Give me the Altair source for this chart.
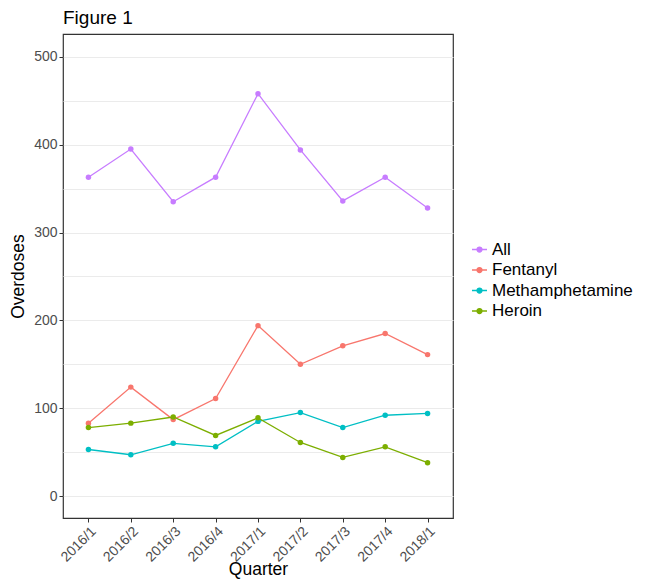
import altair as alt
import pandas as pd

quarters = ["2016/1", "2016/2", "2016/3", "2016/4", "2017/1", "2017/2", "2017/3", "2017/4", "2018/1"]
series_names = ["All", "Fentanyl", "Methamphetamine", "Heroin"]
all_vals = [363, 395, 335, 363, 458, 394, 336, 363, 328]
fentanyl_vals = [83, 124, 87, 111, 194, 150, 171, 185, 161]
meth_vals = [53, 47, 60, 56, 85, 95, 78, 92, 94]
heroin_vals = [78, 83, 90, 69, 89, 61, 44, 56, 38]
colors = ["#C77CFF", "#F8766D", "#00BFC4", "#7CAE00"]

rows = []
for name, vals in zip(series_names, [all_vals, fentanyl_vals, meth_vals, heroin_vals]):
    for q, v in zip(quarters, vals):
        rows.append({"Quarter": q, "Overdoses": v, "Drug": name})
df = pd.DataFrame(rows)

FONT = "Liberation Sans"

x = alt.X("Quarter:O", sort=quarters,
          scale=alt.Scale(type="point", padding=0.6),
          axis=alt.Axis(title="Quarter", labelAngle=-45, labelAlign="right", labelBaseline="top",
                        labelFontSize=14, labelColor="#4D4D4D", labelFont=FONT, labelPadding=2,
                        titleFontSize=17.5, titleColor="black", titleFont=FONT, titleFontWeight="normal",
                        titleY=56, titleBaseline="alphabetic",
                        tickColor="#333333", tickSize=4, domain=False, grid=False))
y = alt.Y("Overdoses:Q",
          scale=alt.Scale(domain=[-25, 526], nice=False, zero=False),
          axis=alt.Axis(title="Overdoses", values=list(range(0, 501, 50)),
                        labelExpr="datum.value % 100 === 0 ? datum.label : ''",
                        tickOpacity={"condition": {"test": "datum.value % 100 === 0", "value": 1}, "value": 0},
                        labelFontSize=14, labelColor="#4D4D4D", labelFont=FONT, labelPadding=2,
                        titleFontSize=17.5, titleColor="black", titleFont=FONT, titleFontWeight="normal",
                        titlePadding=6, tickColor="#333333", tickSize=4, domain=False,
                        grid=True, gridColor="#EBEBEB", gridWidth=1))
color = alt.Color("Drug:N", sort=series_names,
                  scale=alt.Scale(domain=series_names, range=colors),
                  legend=alt.Legend(title=None, orient="none", legendX=408, legendY=207,
                                    labelFontSize=17, labelFont=FONT, labelColor="black",
                                    symbolType="M-1,0H1M-0.33,0A0.33,0.33 0 1,1 0.33,0A0.33,0.33 0 1,1 -0.33,0Z",
                                    symbolSize=225, symbolStrokeWidth=1.3, rowPadding=2.5,
                                    labelOffset=4))

lines = alt.Chart(df).mark_line(strokeWidth=1.3).encode(x=x, y=y, color=color)
points = alt.Chart(df).mark_circle(size=30, opacity=1).encode(
    x=x, y=y,
    color=alt.Color("Drug:N", sort=series_names, scale=alt.Scale(domain=series_names, range=colors), legend=None))

chart = (lines + points).properties(
    width=390, height=484,
    background="white",
    title=alt.Title("Figure 1", anchor="start", frame="group", fontSize=19, font=FONT,
                    fontWeight="normal", color="black", offset=6),
    autosize=alt.AutoSizeParams(type="none"),
    padding={"left": 55, "top": 26, "right": 185, "bottom": 62},
).configure_view(stroke="#333333", strokeWidth=1.2)

chart.save("out.html", embed_options={"renderer": "svg", "actions": False})
